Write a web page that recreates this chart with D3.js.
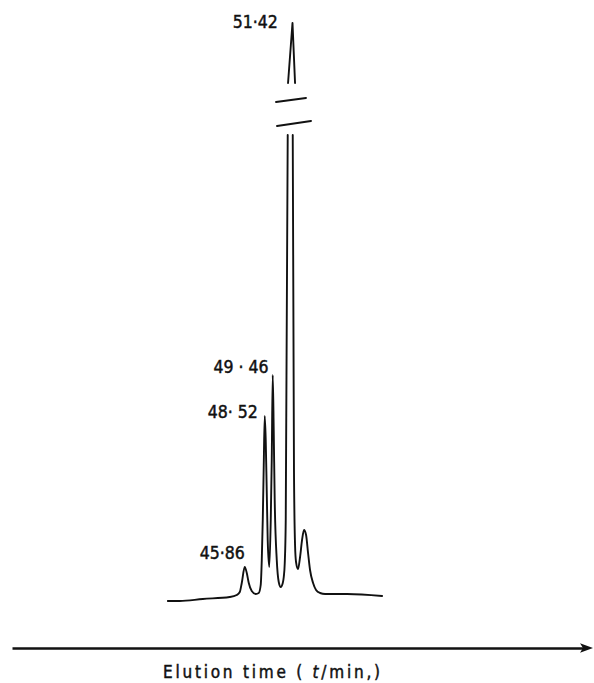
<!DOCTYPE html>
<html>
<head>
<meta charset="utf-8">
<script src="https://cdn.jsdelivr.net/npm/d3@7"></script>
<style>
body { margin: 0; background: #fff; }
text { font-family: "DejaVu Sans Condensed", "DejaVu Sans", sans-serif; fill: #111; stroke: #111; stroke-width: 0.45px; }
</style>
</head>
<body>
<svg id="chart" width="594" height="683"></svg>
<script>
/* gas chromatogram, main peak drawn with a broken scale */

// trace left of the break (elution time in min, signal in arbitrary units)
const leftTime = [36.62, 38.07, 40.87, 44.14, 44.99, 45.36, 45.60, 45.96, 46.21, 46.45,
	46.81, 47.30, 47.66, 47.90, 48.03, 48.15, 48.27, 48.39, 48.51, 48.63,
	48.75, 48.94, 49.12, 49.24, 49.36, 49.48, 49.60, 49.85, 50.09, 50.33,
	50.58, 50.70, 50.82, 50.94, 51.18];
const leftSignal = [4, 4, 6, 8, 10, 13, 22, 38, 32, 22,
	14, 11, 12, 20, 45, 85, 140, 189, 165, 115,
	65, 38, 85, 145, 230, 175, 105, 45, 23, 18,
	22, 28, 42, 85, 470];

// trace right of the break
const rightTime = [51.79, 51.94, 52.07, 52.19, 52.43, 52.68, 52.92, 53.16, 53.41, 53.65,
	53.89, 54.26, 54.62, 55.11, 55.72, 58.39, 62.64];
const rightSignal = [470, 135, 60, 43, 36, 48, 65, 75, 70, 52,
	35, 22, 15, 12, 11, 11, 9];

// tip of the main peak, above the break
const tipTime = [51.22, 51.76, 52.07];
const tipSignal = [522, 582, 522];

// the two break strokes
const breakTime = [[49.76, 53.40], [49.88, 54.01]];
const breakSignal = [[503, 507], [479, 484]];

// peak annotations (retention times)
const peakTimes = [45.86, 48.52, 49.46, 51.42];
const peakLabels = ['45\u00b786', '48\u00b7 52', '49 \u00b7 46', '51\u00b742'];
const peakHeights = [38, 189, 230, 582];

const axisTitle = ['Elution time ( ', 't', '/min,)'];

// layout
const labelNudge = [[1, -8], [-8, 2], [-5, -2], [-12, 5]];
const axisY = 648;

const svg = d3.select('#chart');

const x = d3.scaleLinear().domain([17.7, 87.4]).range([12, 586]);
const y = d3.scaleLinear().domain([0, 600]).range([605, 5]);

function pairs(ts, ss) {
	return ts.map(function(t, i) { return [t, ss[i]]; });
}

const line = d3.line()
	.x(function(d) { return x(d[0]); })
	.y(function(d) { return y(d[1]); });

const smooth = d3.line()
	.x(function(d) { return x(d[0]); })
	.y(function(d) { return y(d[1]); })
	.curve(d3.curveMonotoneX);

const g = svg.append('g')
	.attr('fill', 'none')
	.attr('stroke', '#111')
	.attr('stroke-width', 1.9)
	.attr('stroke-linejoin', 'round')
	.attr('stroke-linecap', 'round');

g.append('path').attr('d', smooth(pairs(leftTime, leftSignal)));
g.append('path').attr('d', smooth(pairs(rightTime, rightSignal)));
g.append('path').attr('d', line(pairs(tipTime, tipSignal)));

breakTime.forEach(function(bt, i) {
	g.append('path').attr('d', line(pairs(bt, breakSignal[i])));
});

svg.selectAll('.peak-label')
	.data(peakTimes)
	.enter().append('text')
		.attr('class', 'peak-label')
		.attr('x', function(d, i) { return x(d) + labelNudge[i][0]; })
		.attr('y', function(d, i) { return y(peakHeights[i]) + labelNudge[i][1]; })
		.attr('text-anchor', 'end')
		.style('font-size', '17.5px')
		.text(function(d, i) { return peakLabels[i]; });

// time axis with an arrow
const axis = svg.append('g')
	.attr('transform', 'translate(0,' + axisY + ')')
	.call(d3.axisBottom(x).tickValues([]).tickSizeOuter(0));

axis.select('.domain')
	.attr('stroke', '#111')
	.attr('stroke-width', 2.6);

const xEnd = x.range()[1];
axis.append('path')
	.attr('d', 'M' + (xEnd - 6) + ',-4.8L' + (xEnd + 7) + ',0L' + (xEnd - 6) + ',4.8L' + (xEnd - 3) + ',0Z')
	.attr('fill', '#111');

const title = svg.append('text')
	.attr('x', 163)
	.attr('y', 678)
	.attr('textLength', 217)
	.attr('lengthAdjust', 'spacing')
	.style('font-size', '17px');

title.append('tspan').text(axisTitle[0]);
title.append('tspan').style('font-style', 'italic').text(axisTitle[1]);
title.append('tspan').text(axisTitle[2]);
</script>
</body>
</html>
